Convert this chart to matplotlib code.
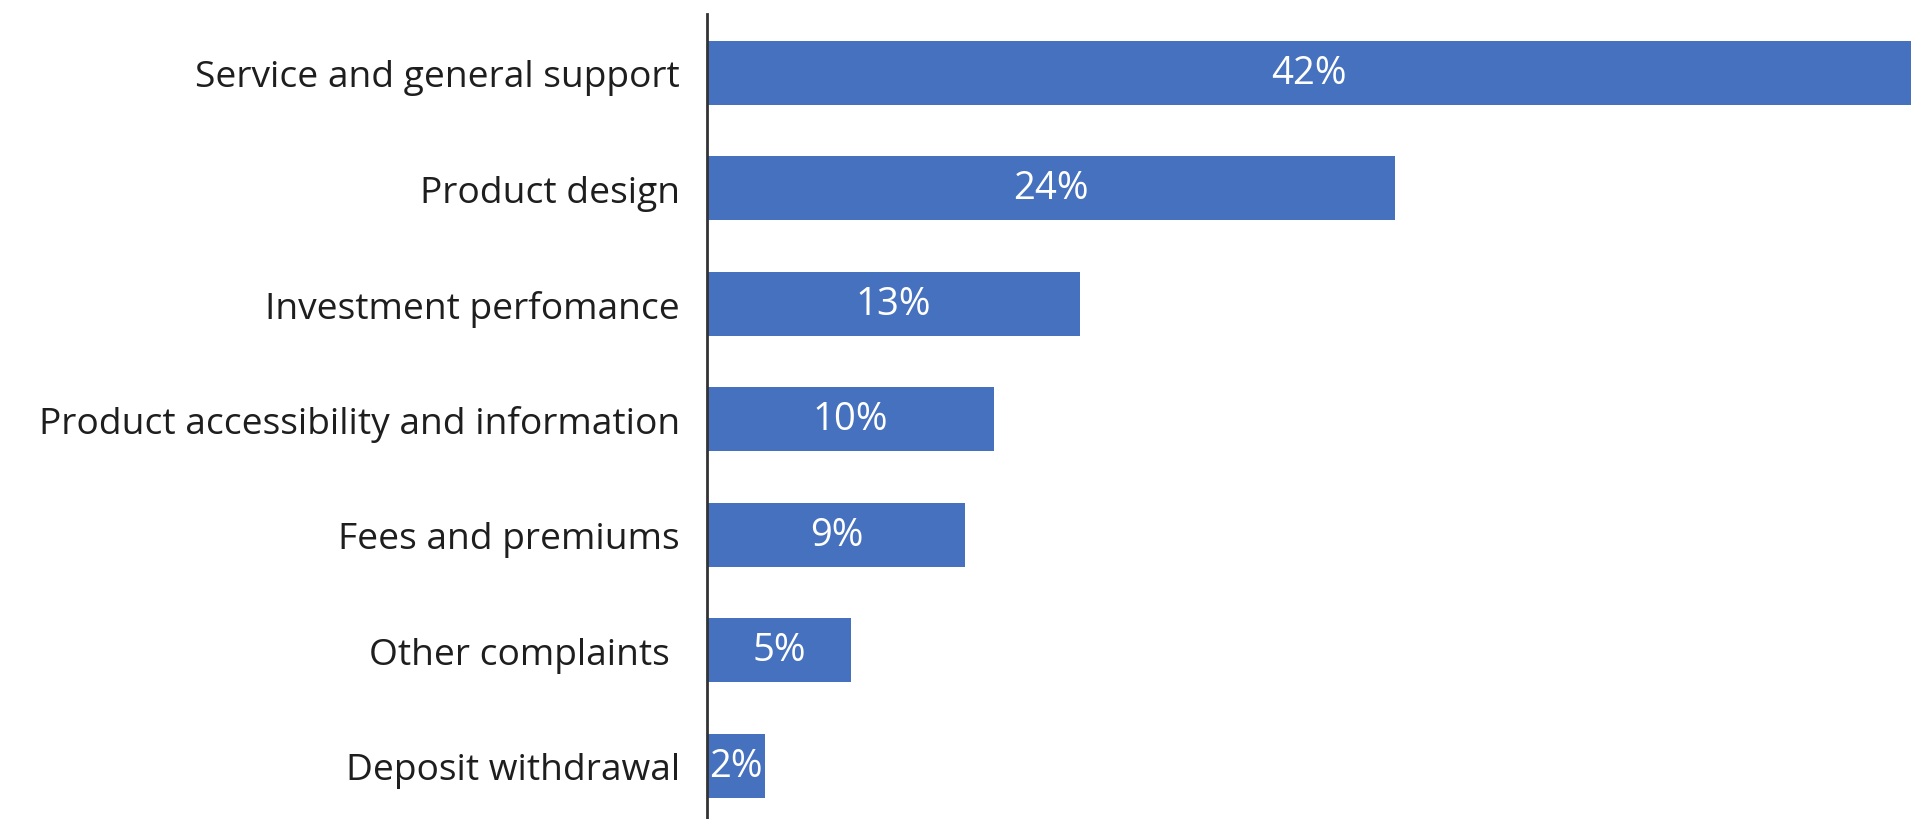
import matplotlib.pyplot as plt

categories = [
    'Service and general support',
    'Product design',
    'Investment perfomance',
    'Product accessibility and information',
    'Fees and premiums',
    'Other complaints ',
    'Deposit withdrawal',
]
shares = [42, 24, 13, 10, 9, 5, 2]

plt.rcParams['font.family'] = ['Open Sans', 'DejaVu Sans']

fig = plt.figure(figsize=(19.12, 8.2), dpi=100)
ax = fig.add_axes([0.370, 0.0, 0.630, 0.982])

pos = list(range(len(categories)))
bars = ax.barh(pos, shares, height=0.555, color='#4671BE')

# percentage labels centred inside each bar
for b, v in zip(bars, shares):
    ax.text(b.get_x() + b.get_width() / 2, b.get_y() + b.get_height() / 2,
            f'{v}%', ha='center', va='center', color='white', fontsize=27.5)

ax.set_yticks(pos)
ax.set_yticklabels(categories, fontsize=26.7, color='#1e1e1e')
ax.tick_params(axis='y', length=0, pad=20)
ax.set_xticks([])
ax.set_xlim(0, 42.05)
ax.set_ylim(6.46, -0.51)

for side in ['top', 'right', 'bottom']:
    ax.spines[side].set_visible(False)
ax.spines['left'].set_linewidth(2)
ax.spines['left'].set_color('#333333')

fig.savefig('out.png', dpi=100)
